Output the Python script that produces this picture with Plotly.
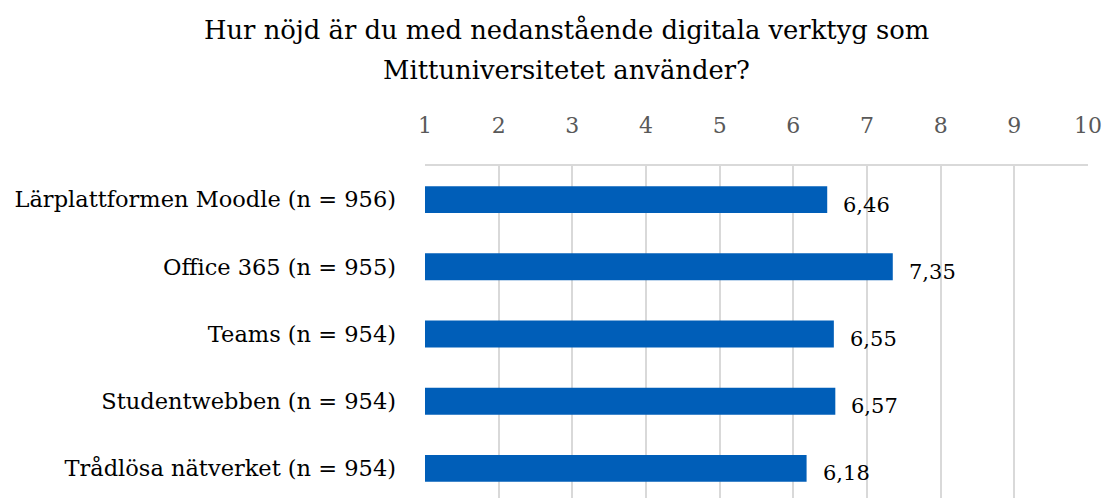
import plotly.graph_objects as go

categories = ["Lärplattformen Moodle (n = 956)", "Office 365 (n = 955)", "Teams (n = 954)",
              "Studentwebben (n = 954)", "Trådlösa nätverket (n = 954)"]
values = [6.46, 7.35, 6.55, 6.57, 6.18]
x_ticks = [1, 2, 3, 4, 5, 6, 7, 8, 9, 10]
title_lines = ["Hur nöjd är du med nedanstående digitala verktyg som", "Mittuniversitetet använder?"]

FONT = "DejaVu Serif"
BLUE = "#005EB8"

fig = go.Figure()
fig.add_trace(go.Bar(
    y=categories, x=[v - 1 for v in values], base=1, orientation="h",
    marker=dict(color=BLUE, line=dict(width=0)), width=0.4, hoverinfo="skip",
))

for c, v in zip(categories, values):
    fig.add_annotation(x=v, y=c, text=f"{v:.2f}".replace(".", ","), showarrow=False,
                       xanchor="left", xshift=14, yshift=-5,
                       font=dict(family=FONT, size=21, color="#000000"))

title_y = [30, 70]
for line, ypx in zip(title_lines, title_y):
    fig.add_annotation(text=line, xref="paper", yref="paper", x=(566 - 425) / (1088 - 425),
                       y=1 + (166 - ypx) / (498 - 166), xanchor="center", yanchor="middle",
                       showarrow=False, font=dict(family=FONT, size=25.8, color="#000000"))

fig.update_layout(
    width=1107, height=498,
    margin=dict(l=425, r=19, t=166, b=0, autoexpand=False),
    paper_bgcolor="white", plot_bgcolor="white",
    showlegend=False,
    font=dict(family=FONT),
)

fig.update_xaxes(side="top", range=[1, 10], tickvals=x_ticks, ticktext=[str(t) for t in x_ticks],
                 showgrid=True, gridcolor="#D9D9D9", gridwidth=1.5, zeroline=False,
                 showline=True, linecolor="#D9D9D9", linewidth=1.5, mirror=False,
                 tickfont=dict(family=FONT, size=22, color="#595959"), ticks="",
                 ticklabelstandoff=22, automargin=False)
fig.update_yaxes(type="category", categoryorder="array", categoryarray=categories,
                 range=[4.44, -0.5], showgrid=False, zeroline=False, showline=False, ticks="",
                 tickfont=dict(family=FONT, size=22.5, color="#000000"), ticklabelstandoff=28,
                 automargin=False)

fig.write_html("out.html", config={"displayModeBar": False},
               post_script="document.body.style.margin='0';")
